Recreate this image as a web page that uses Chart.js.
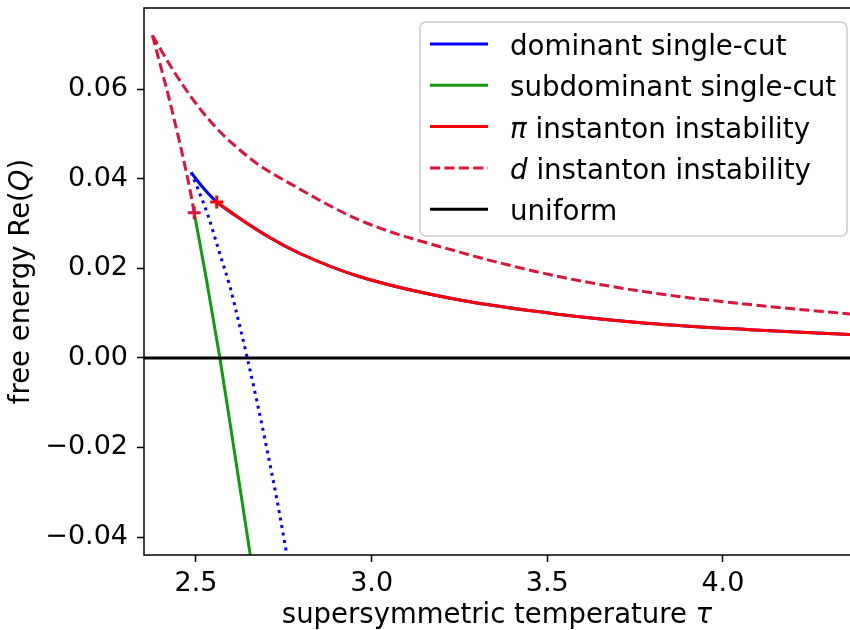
<!DOCTYPE html>
<html>
<head>
<meta charset="utf-8">
<script src="https://cdn.jsdelivr.net/npm/chart.js@4.4.0/dist/chart.umd.min.js"></script>
<style>
html, body { margin: 0; padding: 0; background: #fff; }
#c { display: block; }
</style>
</head>
<body>
<canvas id="c" width="850" height="630"></canvas>
<script>
// values (tau, free energy)
const piTau = [2.559, 2.625, 2.711, 2.796, 2.967, 3.251, 3.536, 3.792, 4.077, 4.362];
const piF   = [0.0348, 0.0311, 0.0268, 0.0233, 0.0181, 0.0129, 0.0097, 0.0077, 0.0063, 0.0052];

// dominant single-cut: short piece from the cusp, then it runs under the pi curve
const domTau = [2.486, 2.521].concat(piTau);
const domF   = [0.0414, 0.0379].concat(piF);

// dominant single-cut, unstable (dotted) branch
const domDotTau = [2.486, 2.504, 2.535, 2.568, 2.597, 2.620, 2.646, 2.673, 2.701, 2.730, 2.758, 2.766];
const domDotF   = [0.0414, 0.0380, 0.0316, 0.0232, 0.0158, 0.0086, 0.0, -0.0095, -0.0200, -0.0315, -0.0437, -0.0475];

const subTau = [2.495, 2.530, 2.568, 2.606, 2.654, 2.662];
const subF   = [0.0324, 0.0174, 0.0, -0.0192, -0.0437, -0.0480];

// d instanton: two branches meeting at the cusp near tau = 2.376
const dLowTau = [2.376, 2.430, 2.483, 2.495];
const dLowF   = [0.0720, 0.0558, 0.0375, 0.0324];
const dUpTau  = [2.376, 2.435, 2.483, 2.530, 2.578, 2.625, 2.673, 2.768, 2.967, 3.251, 3.536, 3.792, 4.077, 4.362];
const dUpF    = [0.0720, 0.0642, 0.0586, 0.0538, 0.0497, 0.0464, 0.0434, 0.0389, 0.0307, 0.0236, 0.0181, 0.0146, 0.0119, 0.0098];

const unifTau = [2.3, 4.4];
const unifF   = [0, 0];

const crossPiTau = [2.559];
const crossPiF   = [0.0348];
const crossDTau  = [2.495];
const crossDF    = [0.0324];

const xTicks = [2.5, 3.0, 3.5, 4.0];
const xTickLabels = ['2.5', '3.0', '3.5', '4.0'];
const yTicks = [-0.04, -0.02, 0, 0.02, 0.04, 0.06];
const yTickLabels = ['\u22120.04', '\u22120.02', '0.00', '0.02', '0.04', '0.06'];

const FONT = 'DejaVu Sans';
const BLUE = '#0000ff', GREEN = '#109a10', RED = '#ff0000', CRIMSON = '#dc143c';

function pts(xs, ys) {
	return xs.map((x, i) => ({ x: x, y: ys[i] }));
}

function line(data, color, order, dash) {
	return {
		data: data,
		showLine: true,
		borderColor: color,
		backgroundColor: color,
		borderWidth: 3,
		borderDash: dash || [],
		pointRadius: 0,
		cubicInterpolationMode: 'monotone',
		order: order
	};
}

function cross(data, color) {
	return {
		data: data,
		showLine: false,
		pointStyle: 'cross',
		pointRadius: 6.5,
		pointBorderWidth: 3,
		borderColor: color,
		backgroundColor: color,
		order: 0
	};
}

// draw text made of pieces with different styles
function drawParts(c, parts, x, y, size, align) {
	let total = 0;
	parts.forEach(p => {
		c.font = p[1] + size + 'px "' + FONT + '"';
		total += c.measureText(p[0]).width;
	});
	let cx = align === 'center' ? x - total / 2 : x;
	parts.forEach(p => {
		c.font = p[1] + size + 'px "' + FONT + '"';
		c.fillText(p[0], cx, y);
		cx += c.measureText(p[0]).width;
	});
}

const legendItems = [
	{ parts: [['dominant single-cut', '']], color: BLUE, dash: [] },
	{ parts: [['subdominant single-cut', '']], color: GREEN, dash: [] },
	{ parts: [['\u03c0', 'italic '], [' instanton instability', '']], color: RED, dash: [] },
	{ parts: [['d', 'italic '], [' instanton instability', '']], color: CRIMSON, dash: [10, 4.4] },
	{ parts: [['uniform', '']], color: '#000', dash: [] }
];

const extras = {
	id: 'extras',
	afterDatasetsDraw(chart) {
		const c = chart.ctx, a = chart.chartArea;
		c.save();
		c.strokeStyle = '#000';
		c.lineWidth = 1.5;
		c.strokeRect(a.left, a.top, a.right - a.left + 6, a.bottom - a.top);
		c.restore();
	},
	afterDraw(chart) {
		const c = chart.ctx;
		c.save();
		c.fillStyle = '#000';
		c.textBaseline = 'alphabetic';
		drawParts(c, [['supersymmetric temperature ', ''], ['\u03c4', 'italic ']], 497, 623, 27.5, 'center');
		c.save();
		c.translate(29, 281.5);
		c.rotate(-Math.PI / 2);
		drawParts(c, [['free energy Re(', ''], ['Q', 'italic '], [')', '']], 0, 0, 27.5, 'center');
		c.restore();

		// legend box
		const bx = 420, by = 22, bw = 427, bh = 214;
		c.beginPath();
		c.roundRect(bx, by, bw, bh, 6);
		c.fillStyle = 'rgba(255,255,255,0.8)';
		c.fill();
		c.strokeStyle = '#cccccc';
		c.lineWidth = 1.5;
		c.stroke();

		legendItems.forEach((it, i) => {
			const ly = 44 + i * 41.3;
			c.beginPath();
			c.setLineDash(it.dash);
			c.strokeStyle = it.color;
			c.lineWidth = 3;
			c.moveTo(430, ly);
			c.lineTo(488, ly);
			c.stroke();
			c.setLineDash([]);
			c.fillStyle = '#000';
			drawParts(c, it.parts, 510, ly + 11, 27.7);
		});
		c.restore();
	}
};

const ctx = document.getElementById('c').getContext('2d');

new Chart(ctx, {
	type: 'scatter',
	data: {
		datasets: [
			line(pts(domTau, domF), BLUE, 8),
			line(pts(subTau, subF), GREEN, 7),
			line(pts(piTau, piF), RED, 6),
			line(pts(dLowTau, dLowF), CRIMSON, 5, [10, 4.4]),
			line(pts(dUpTau, dUpF), CRIMSON, 5, [10, 4.4]),
			line(pts(unifTau, unifF), '#000', 4),
			line(pts(domDotTau, domDotF), BLUE, 3, [3, 4.6]),
			cross(pts(crossPiTau, crossPiF), RED),
			cross(pts(crossDTau, crossDF), CRIMSON)
		]
	},
	options: {
		responsive: false,
		animation: false,
		layout: { autoPadding: false, padding: { top: 8, right: 0, left: 0, bottom: 0 } },
		plugins: {
			legend: { display: false },
			tooltip: { enabled: false }
		},
		scales: {
			x: {
				type: 'linear',
				min: 2.352,
				max: 4.362,
				afterFit: s => {
					s.height = 75;
					s.paddingLeft = 0;
					s.paddingRight = 0;
				},
				afterBuildTicks: s => { s.ticks = xTicks.map(v => ({ value: v })); },
				border: { display: false },
				grid: { drawOnChartArea: false, drawTicks: true, tickLength: 7, tickWidth: 1.5, tickColor: '#000' },
				ticks: {
					color: '#000',
					font: { family: FONT, size: 27 },
					padding: 6,
					maxRotation: 0,
					autoSkip: false,
					callback: (v, i) => xTickLabels[i]
				}
			},
			y: {
				type: 'linear',
				min: -0.0440,
				max: 0.0781,
				afterFit: s => {
					s.width = 144;
					s.paddingTop = 0;
					s.paddingBottom = 0;
				},
				afterBuildTicks: s => { s.ticks = yTicks.map(v => ({ value: v })); },
				border: { display: false },
				grid: { drawOnChartArea: false, drawTicks: true, tickLength: 7, tickWidth: 1.5, tickColor: '#000' },
				ticks: {
					color: '#000',
					font: { family: FONT, size: 27 },
					padding: 9,
					autoSkip: false,
					callback: (v, i) => yTickLabels[i]
				}
			}
		}
	},
	plugins: [extras]
});
</script>
</body>
</html>
